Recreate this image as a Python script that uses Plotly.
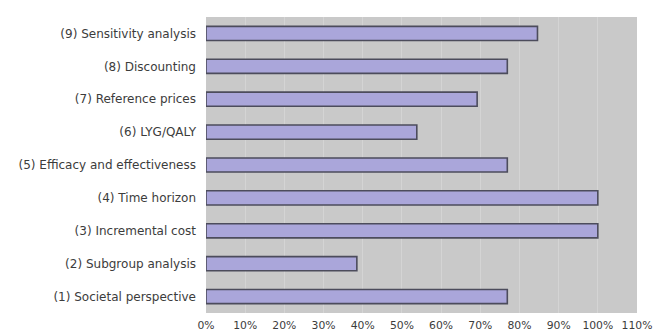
import plotly.graph_objects as go

# Share of studies meeting each quality criterion (n = 13)
criteria = [
    "(1) Societal perspective",
    "(2) Subgroup analysis",
    "(3) Incremental cost",
    "(4) Time horizon",
    "(5) Efficacy and effectiveness",
    "(6) LYG/QALY",
    "(7) Reference prices",
    "(8) Discounting",
    "(9) Sensitivity analysis",
]
share = [0.769, 0.385, 1.0, 1.0, 0.769, 0.538, 0.692, 0.769, 0.846]

tick_vals = [i / 10 for i in range(12)]
tick_text = [f"{i * 10}%" for i in range(12)]

fig = go.Figure(
    go.Bar(
        x=share,
        y=criteria,
        orientation="h",
        width=0.43,
        marker=dict(color="#aaa6da", line=dict(color="#4c4c5c", width=1.6)),
    )
)

fig.update_layout(
    width=654,
    height=333,
    margin=dict(l=206, r=17, t=17, b=20, autoexpand=False),
    paper_bgcolor="white",
    plot_bgcolor="#c9c9c9",
    showlegend=False,
    font=dict(family="DejaVu Sans, sans-serif", size=11, color="#3c3c3c"),
)
fig.update_xaxes(
    range=[0, 1.1],
    tickvals=tick_vals,
    ticktext=tick_text,
    tickfont=dict(size=10.8),
    showgrid=True,
    gridcolor="#d4d4d4",
    gridwidth=1,
    zeroline=False,
    showline=False,
    ticks="",
    automargin=False,
    ticklabelstandoff=4,
    fixedrange=True,
)
fig.update_yaxes(
    categoryorder="array",
    categoryarray=criteria,
    range=[-0.5, 8.5],
    tickfont=dict(size=12),
    showgrid=False,
    zeroline=False,
    showline=False,
    ticks="",
    automargin=False,
    ticklabelstandoff=9,
    fixedrange=True,
)

fig.write_html("out.html")
